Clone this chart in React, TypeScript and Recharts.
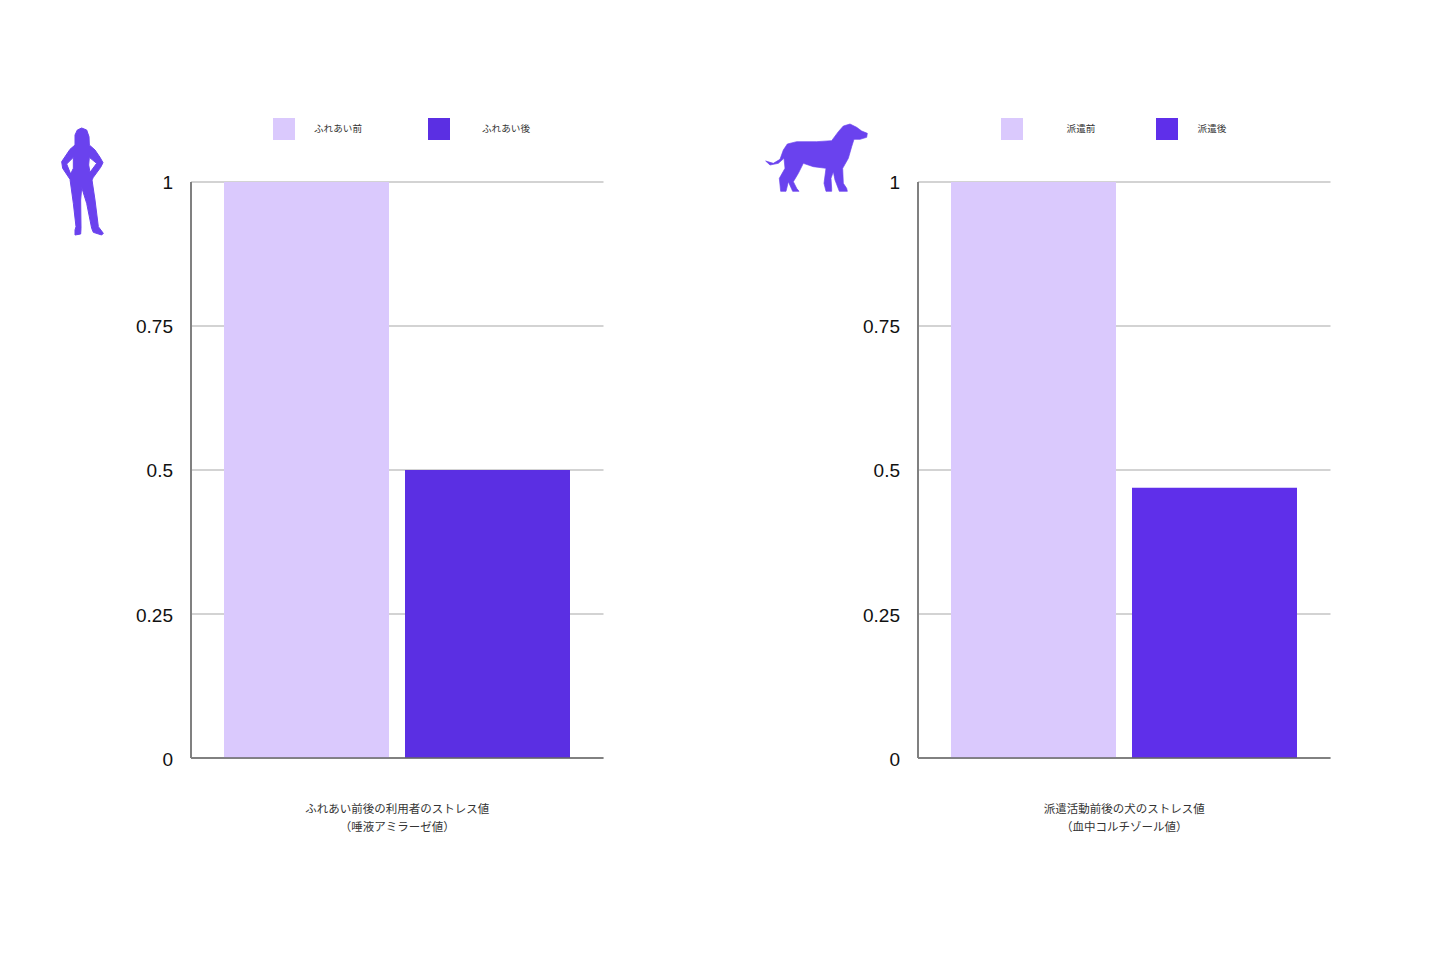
import React from "react";
import { BarChart, Bar, XAxis, YAxis, CartesianGrid, Legend } from "recharts";

const LIGHT = "#dac9fd";
const DARK_HUMAN = "#5b2fe3";
const DARK_DOG = "#5f2fea";
const ICON = "#6a42ee";
const JP = '"Noto Sans CJK JP", sans-serif';

const yTicks = [0, 0.25, 0.5, 0.75, 1];
const humanSeries = ["ふれあい前", "ふれあい後"];
const humanValues = [1, 0.5];
const humanCaption = ["ふれあい前後の利用者のストレス値", "（唾液アミラーゼ値）"];
const dogSeries = ["派遣前", "派遣後"];
const dogValues = [1, 0.469];
const dogCaption = ["派遣活動前後の犬のストレス値", "（血中コルチゾール値）"];

const personOutline = [[125,84],[140,90],[147,110],[148,135],[165,150],[180,172],[189,188],[182,202],[160,232],[156,240],[165,300],[175,380],[190,400],[185,405],[160,397],[155,385],[140,310],[125,262],[122,300],[123,385],[122,402],[105,405],[105,390],[108,380],[100,310],[90,238],[68,205],[65,185],[90,148],[105,135],[105,105],[112,90]];
const personHoleLeft = [[100,172],[80,192],[92,222],[100,205]];
const personHoleRight = [[148,172],[170,190],[150,217],[146,195]];
const dogOutline = [[47,183],[70,190],[90,178],[100,150],[112,132],[140,125],[200,125],[245,122],[265,95],[280,78],[300,72],[320,82],[335,93],[352,100],[350,112],[330,118],[312,118],[305,140],[295,175],[278,205],[280,250],[290,265],[292,274],[268,274],[255,240],[250,215],[243,235],[245,265],[245,274],[228,274],[222,250],[228,205],[190,200],[160,190],[145,220],[130,245],[140,265],[147,274],[128,274],[115,245],[108,274],[92,274],[88,235],[105,205],[102,175],[85,190],[60,195]];

function poly(pts: number[][]) {
  return "M" + pts.map((p) => p.join(" ")).join("L") + "Z";
}

function CaptionTick({ x, y, lines }: any) {
  return (
    <text x={x} textAnchor="middle" fontFamily={JP} fontSize={11.5} fill="#333">
      {lines.map((l: string, i: number) => (
        <tspan key={l} x={x} y={y + 47 + i * 18}>{l}</tspan>
      ))}
    </text>
  );
}

function ValueTick({ x, y, payload }: any) {
  return (
    <text x={x} y={y + 6.5 + (1 - payload.value) * 1.5} textAnchor="end" fontFamily='"Liberation Sans", sans-serif' fontSize={19} fill="#111111">
      {String(payload.value)}
    </text>
  );
}

function LegendBox({ payload, items }: any) {
  return (
    <div style={{ position: "relative", height: 0, width: 0 }}>
      {(payload || []).map((p: any, i: number) => (
        <React.Fragment key={p.value}>
          <div style={{ position: "absolute", left: items[i].box, top: 118, width: 22, height: 22, background: p.color }} />
          <div style={{ position: "absolute", left: items[i].text - 50, top: 121, width: 100, textAlign: "center", fontFamily: JP, fontSize: 9.6, lineHeight: "15px", color: "#333" }}>{p.value}</div>
        </React.Fragment>
      ))}
    </div>
  );
}

function Panel({ left, names, values, caption, legendItems, dark }: any) {
  const data = [{ name: caption.join(""), before: values[0], after: values[1] }];
  return (
    <div style={{ position: "absolute", left, top: 0 }}>
      <BarChart width={720} height={960} data={data} margin={{ top: 182, right: 116.5, bottom: 122, left: 0 }} barCategoryGap={33} barGap={16} barSize={165}>
        <CartesianGrid horizontal vertical={false} stroke="#c4c4c4" strokeWidth={1.5} syncWithTicks />
        <XAxis dataKey="name" height={80} axisLine={{ stroke: "#666666", strokeWidth: 1.5 }} tickLine={false} interval={0} tick={<CaptionTick lines={caption} />} />
        <YAxis width={191} domain={[0, 1]} ticks={yTicks} tickLine={false} axisLine={{ stroke: "#808080", strokeWidth: 2 }} tickSize={0} tickMargin={18} tick={<ValueTick />} />
        <Legend content={(p: any) => <LegendBox {...p} items={legendItems} />} wrapperStyle={{ left: 0, top: 0, width: 0, height: 0 }} />
        <Bar dataKey="before" name={names[0]} fill={LIGHT} isAnimationActive={false} />
        <Bar dataKey="after" name={names[1]} fill={dark} isAnimationActive={false} />
      </BarChart>
    </div>
  );
}

export default function App() {
  return (
    <div style={{ position: "absolute", left: 0, top: 0, width: 1440, height: 960, background: "#fff", overflow: "hidden" }}>
      <Panel left={0} names={humanSeries} values={humanValues} caption={humanCaption} dark={DARK_HUMAN}
        legendItems={[{ box: 273, text: 338 }, { box: 428, text: 506 }]} />
      <Panel left={727} names={dogSeries} values={dogValues} caption={dogCaption} dark={DARK_DOG}
        legendItems={[{ box: 274, text: 354 }, { box: 429, text: 485 }]} />
      <svg style={{ position: "absolute", left: 40, top: 100 }} width={200} height={150} viewBox="0 0 600 450">
        <path fillRule="evenodd" fill={ICON} stroke={ICON} strokeWidth={3} strokeLinejoin="round" d={poly(personOutline) + poly(personHoleLeft) + poly(personHoleRight)} />
      </svg>
      <svg style={{ position: "absolute", left: 750, top: 100 }} width={200} height={110} viewBox="0 0 600 330">
        <path fill={ICON} stroke={ICON} strokeWidth={2} strokeLinejoin="round" d={poly(dogOutline)} />
      </svg>
    </div>
  );
}
